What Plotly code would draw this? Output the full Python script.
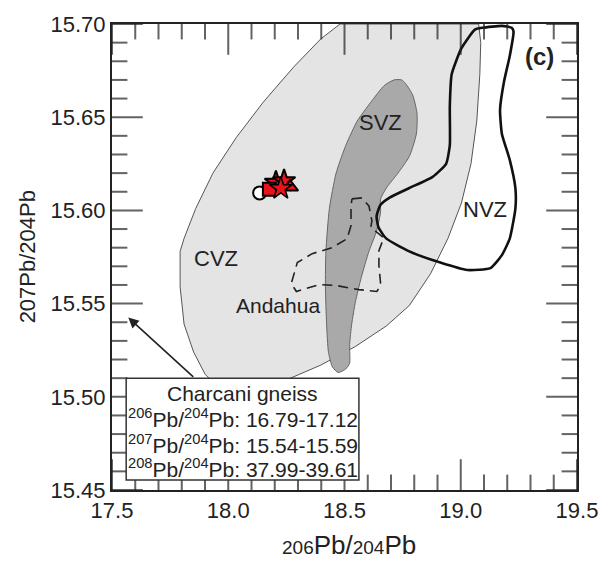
import plotly.graph_objects as go

# ---------------- data ----------------
cvz_x = [18.481, 18.60, 18.80, 19.00, 19.077, 19.086, 19.082, 19.069, 19.044, 19.003, 18.945, 18.870, 18.779,
         18.680, 18.547, 18.398, 18.249, 18.100, 17.959, 17.901, 17.851, 17.810, 17.793, 17.793,
         17.810, 17.860, 17.934, 18.034, 18.150, 18.282, 18.398, 18.481]
cvz_y = [15.700, 15.700, 15.700, 15.700, 15.700, 15.690, 15.673, 15.648, 15.625, 15.604, 15.585, 15.566, 15.549,
         15.538, 15.527, 15.517, 15.509, 15.504, 15.505, 15.512, 15.524, 15.539, 15.559, 15.578,
         15.585, 15.601, 15.620, 15.639, 15.658, 15.677, 15.692, 15.700]

svz_x = [18.746, 18.763, 18.793, 18.812, 18.809, 18.779, 18.730, 18.680, 18.655, 18.655, 18.638, 18.605, 18.572,
         18.547, 18.531, 18.522, 18.522, 18.506, 18.473, 18.448, 18.431, 18.423, 18.418, 18.420,
         18.435, 18.464, 18.506, 18.555, 18.613, 18.671, 18.713, 18.746]
svz_y = [15.670, 15.668, 15.662, 15.652, 15.641, 15.629, 15.620, 15.612, 15.606, 15.599, 15.589, 15.578, 15.564,
         15.551, 15.539, 15.528, 15.518, 15.515, 15.513, 15.516, 15.524, 15.539, 15.559, 15.578,
         15.601, 15.620, 15.635, 15.648, 15.658, 15.667, 15.670, 15.670]

nvz_x = [19.061, 19.003, 18.961, 18.953, 18.953, 18.937, 18.879, 18.779, 18.696, 18.655, 18.638, 18.646, 18.679,
         18.779, 18.912, 19.028, 19.127, 19.177, 19.211, 19.235, 19.235, 19.211, 19.177, 19.169,
         19.186, 19.211, 19.227, 19.219, 19.177, 19.094, 19.061]
nvz_y = [15.697, 15.687, 15.673, 15.656, 15.635, 15.625, 15.618, 15.612, 15.607, 15.603, 15.597, 15.591, 15.585,
         15.578, 15.572, 15.568, 15.569, 15.576, 15.585, 15.601, 15.612, 15.627, 15.641, 15.654,
         15.669, 15.683, 15.696, 15.698, 15.699, 15.698, 15.697]

andahua_x = [18.532, 18.575, 18.605, 18.618, 18.613, 18.669, 18.648, 18.648, 18.656, 18.639, 18.562, 18.464,
             18.391, 18.293, 18.271, 18.297, 18.361, 18.447, 18.511, 18.528, 18.528, 18.532]
andahua_y = [15.6062, 15.6067, 15.6024, 15.5944, 15.5910, 15.5853, 15.5784, 15.5704, 15.5597, 15.5565, 15.5575,
             15.5597, 15.5602, 15.5565, 15.5608, 15.5720, 15.5768, 15.5800, 15.5848, 15.5918, 15.6024, 15.6062]

# sample symbols (cluster)
circle_x, circle_y = [18.135], [15.6094]
square_x, square_y = [18.177], [15.6114]
burst_x, burst_y = [18.205, 18.240], [15.6150, 15.6158]
star_x, star_y = [18.226], [15.6118]
tri_x, tri_y = [18.266], [15.6125]

region_labels = ["CVZ", "SVZ", "NVZ", "Andahua"]
region_x = [17.949, 18.655, 19.104, 18.213]
region_y = [15.574, 15.647, 15.6007, 15.549]

box_lines = ["Charcani gneiss",
             "<sup>206</sup>Pb/<sup>204</sup>Pb: 16.79-17.12",
             "<sup>207</sup>Pb/<sup>204</sup>Pb: 15.54-15.59",
             "<sup>208</sup>Pb/<sup>204</sup>Pb: 37.99-39.61"]
box_line_y = [15.5019, 15.4885, 15.4746, 15.4617]
box_x0, box_x1, box_y0, box_y1 = 17.561, 18.562, 15.4553, 15.5099
arrow_tail = (17.856, 15.5100)
arrow_head = (17.570, 15.5425)

x_range = [17.5, 19.5]
y_range = [15.45, 15.70]
x_major = [17.5, 18.0, 18.5, 19.0, 19.5]
y_major = [15.45, 15.50, 15.55, 15.60, 15.65, 15.70]
x_minor_step = 0.1
y_minor_step = 0.01

FONT = "Liberation Sans, Arial, sans-serif"
INK = "#222222"
MAJ_LEN, MIN_LEN = 22, 11

fig = go.Figure()
fig.add_trace(go.Scatter(x=cvz_x, y=cvz_y, mode="lines", fill="toself", fillcolor="#e4e4e4",
                         line=dict(color="#555555", width=1), hoverinfo="skip"))
fig.add_trace(go.Scatter(x=svz_x, y=svz_y, mode="lines", fill="toself", fillcolor="#a9a9a9",
                         line=dict(color="#666666", width=1, shape="spline", smoothing=0.6), hoverinfo="skip"))
fig.add_trace(go.Scatter(x=andahua_x, y=andahua_y, mode="lines",
                         line=dict(color="#222222", width=1.6, dash="10px,6px"), hoverinfo="skip"))
fig.add_trace(go.Scatter(x=nvz_x, y=nvz_y, mode="lines",
                         line=dict(color="#111111", width=2.6, shape="spline", smoothing=0.5), hoverinfo="skip"))
fig.add_trace(go.Scatter(x=burst_x, y=burst_y, mode="markers",
                         marker=dict(symbol="star", size=17, color="#e8141b", line=dict(color="black", width=2))))
fig.add_trace(go.Scatter(x=tri_x, y=tri_y, mode="markers",
                         marker=dict(symbol="triangle-up", size=14, color="#e8141b", line=dict(color="black", width=2))))
fig.add_trace(go.Scatter(x=circle_x, y=circle_y, mode="markers",
                         marker=dict(symbol="circle", size=13, color="white", line=dict(color="black", width=2))))
fig.add_trace(go.Scatter(x=square_x, y=square_y, mode="markers",
                         marker=dict(symbol="square", size=13, color="#e8141b", line=dict(color="black", width=2))))
fig.add_trace(go.Scatter(x=star_x, y=star_y, mode="markers",
                         marker=dict(symbol="star", size=17, color="#e8141b", line=dict(color="black", width=1.5))))

# ---- inside tick marks on all four sides: line markers centred on the axis, clipped to the plot area ----
nx = int(round((x_range[1] - x_range[0]) / x_minor_step))
xt = [round(x_range[0] + i * x_minor_step, 3) for i in range(nx + 1)]
xt_size = [2 * (MAJ_LEN if any(abs(v - m) < 1e-6 for m in x_major) else MIN_LEN) for v in xt]
fig.add_trace(go.Scatter(x=xt + xt, y=[y_range[0]] * len(xt) + [y_range[1]] * len(xt), mode="markers",
                         cliponaxis=True, hoverinfo="skip",
                         marker=dict(symbol="line-ns", size=xt_size + xt_size, line=dict(color="#222222", width=2))))
ny = int(round((y_range[1] - y_range[0]) / y_minor_step))
yt = [round(y_range[0] + i * y_minor_step, 4) for i in range(ny + 1)]
yt_size = [2 * (MAJ_LEN if any(abs(v - m) < 1e-6 for m in y_major) else MIN_LEN) for v in yt]
fig.add_trace(go.Scatter(x=[x_range[0]] * len(yt) + [x_range[1]] * len(yt), y=yt + yt, mode="markers",
                         cliponaxis=True, hoverinfo="skip",
                         marker=dict(symbol="line-ew", size=yt_size + yt_size, line=dict(color="#222222", width=2))))

for t, x, y in zip(region_labels, region_x, region_y):
    fig.add_annotation(x=x, y=y, text=t, showarrow=False,
                       font=dict(family=FONT, size=22 if t != "Andahua" else 21, color=INK))
fig.add_annotation(x=19.338, y=15.6827, text="<b>(c)</b>", showarrow=False,
                   font=dict(family=FONT, size=24, color=INK))

fig.add_annotation(x=arrow_head[0], y=arrow_head[1], ax=arrow_tail[0], ay=arrow_tail[1], axref="x", ayref="y",
                   text="", showarrow=True, arrowhead=2, arrowsize=1.3, arrowwidth=1.6, arrowcolor="#222222")

fig.add_shape(type="rect", x0=box_x0, x1=box_x1, y0=box_y0, y1=box_y1, layer="above", opacity=1,
              fillcolor="white", line=dict(color="#333333", width=1.5))
for t, y in zip(box_lines, box_line_y):
    fig.add_annotation(x=(box_x0 + box_x1) / 2, y=y, text=t, showarrow=False,
                       font=dict(family=FONT, size=21, color=INK))

fig.add_annotation(xref="paper", yref="paper", x=0.51, y=-0.118, xanchor="center", yanchor="middle",
                   text="<span style='font-size:19px'>206</span>Pb/<span style='font-size:19px'>204</span>Pb",
                   showarrow=False, font=dict(family=FONT, size=26, color=INK))
fig.add_annotation(xref="paper", yref="paper", x=-0.182, y=0.5, xanchor="center", yanchor="middle",
                   textangle=-90, text="207Pb/204Pb", showarrow=False,
                   font=dict(family=FONT, size=22, color=INK))

axis_style = dict(ticks="", showline=True, linecolor="#222222", linewidth=2, mirror=True,
                  showgrid=False, zeroline=False, tickfont=dict(family=FONT, size=22, color=INK))
fig.update_layout(
    xaxis=dict(range=x_range, tickmode="array", tickvals=x_major, ticktext=[f"{v:.1f}" for v in x_major],
               **axis_style),
    yaxis=dict(range=y_range, tickmode="array", tickvals=y_major, ticktext=[f"{v:.2f}" for v in y_major],
               **axis_style),
    width=610, height=562, margin=dict(l=112, r=31, t=23, b=72),
    plot_bgcolor="white", paper_bgcolor="white", showlegend=False)
fig.write_html("out.html")
